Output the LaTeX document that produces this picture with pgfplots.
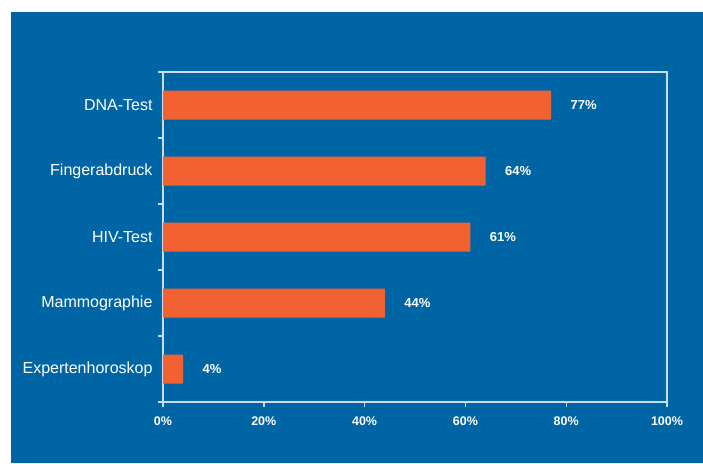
\documentclass[border=0pt]{standalone}
\usepackage{pgfplots}
\pgfplotsset{compat=1.18}
\usepackage{fontspec}
\setmainfont{Liberation Sans}
\definecolor{bgblue}{RGB}{0,101,165}
\definecolor{barorange}{RGB}{242,97,50}
\definecolor{axline}{RGB}{200,222,238}
\begin{document}
\begin{tikzpicture}[x=1pt,y=1pt]
\fill[white] (0,0) rectangle (703,463);
\fill[bgblue] (11,0) rectangle (703,451);
\begin{axis}[
  at={(163pt,61pt)}, anchor=south west,
  scale only axis, width=504pt, height=330pt,
  xmin=0, xmax=100, ymin=-0.5, ymax=4.5,
  xbar, bar width=29pt,
  axis line style={axline, line width=1.6pt},
  xtick={0,20,40,60,80,100},
  xtick pos=bottom, tick align=outside,
  major tick length=5pt,
  tick style={axline, line width=1.4pt},
  xticklabel={\pgfmathprintnumber{\tick}\%},
  /pgf/number format/assume math mode=true,
  xticklabel style={font=\fontsize{12.5}{13}\selectfont\bfseries, text=white, yshift=-6pt},
  ytick={0,1,2,3,4},
  yticklabels={Expertenhoroskop, Mammographie, HIV-Test, Fingerabdruck, DNA-Test},
  every major y tick/.append style={draw=none},
  yticklabel style={font=\fontsize{16}{18}\selectfont, text=white, xshift=-2pt},
  minor ytick={-0.5,0.5,1.5,2.5,3.5,4.5},
  every minor y tick/.append style={axline, line width=1.2pt},
  ytick pos=left,
  minor tick length=5pt,
  clip=false,
  nodes near coords={\pgfmathprintnumber{\pgfplotspointmeta}\%},
  nodes near coords style={font=\fontsize{13}{14}\selectfont\bfseries, text=white, anchor=west, xshift=16pt},
  point meta=explicit,
]
\addplot[fill=barorange, draw=none] coordinates {
  (4,0) [4]
  (44,1) [44]
  (61,2) [61]
  (64,3) [64]
  (77,4) [77]
};
\end{axis}
\end{tikzpicture}
\end{document}
